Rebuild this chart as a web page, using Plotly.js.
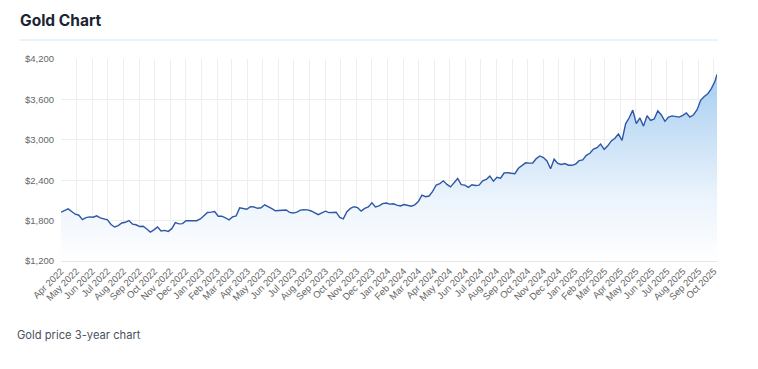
<!DOCTYPE html>
<html>
<head>
<meta charset="utf-8">
<script src="https://cdn.plot.ly/plotly-3.0.1.min.js"></script>
<style>
  html, body { margin: 0; padding: 0; background: #ffffff; }
  #chart { width: 758px; height: 369px; }
</style>
</head>
<body>
<div id="chart"></div>
<script>
// Weekly gold price samples (USD/oz), starting 2022-04-01, one every 7 days
const weeklyStart = '2022-04-01';
const weeklyPrices = [
  // 2022 Apr - Dec
  1925, 1945, 1975, 1935, 1895, 1880, 1815, 1845, 1855, 1850, 1870, 1840, 1828,
  1810, 1742, 1705, 1725, 1765, 1775, 1800, 1748, 1738, 1712, 1716, 1675, 1630,
  1662, 1705, 1645, 1655, 1640, 1680, 1770, 1752, 1755, 1797, 1797, 1793, 1798, 1824,
  // 2023
  1865, 1920, 1926, 1935, 1865, 1865, 1842, 1810, 1855, 1868, 1989, 1978, 1969,
  2007, 2003, 1983, 1990, 2035, 2011, 1977, 1946, 1948, 1961, 1958, 1921, 1912,
  1925, 1955, 1962, 1959, 1943, 1913, 1889, 1915, 1940, 1919, 1924, 1925, 1848,
  1825, 1932, 1981, 2006, 1992, 1940, 1981, 2002, 2065, 2004, 2019, 2053, 2062,
  // 2024
  2045, 2049, 2029, 2018, 2039, 2024, 2013, 2035, 2083, 2179, 2155, 2165, 2233,
  2329, 2350, 2391, 2337, 2301, 2360, 2425, 2333, 2327, 2294, 2333, 2322, 2326,
  2391, 2411, 2460, 2386, 2443, 2431, 2507, 2512, 2503, 2497, 2577, 2621, 2658,
  2653, 2656, 2721, 2760, 2736, 2685, 2570, 2712, 2650, 2633, 2648, 2622, 2621,
  // 2025
  2640, 2690, 2702, 2770, 2800, 2861, 2883, 2936, 2858, 2910, 2984, 3023, 3085,
  2990, 3237, 3327, 3440, 3241, 3325, 3203, 3357, 3289, 3310, 3432, 3368, 3274,
  3337, 3355, 3350, 3337, 3363, 3398, 3336, 3371, 3448, 3586, 3643, 3685, 3760, 3870
];
const lastDate = '2025-10-07';
const lastPrice = 3972;

const yTickVals = [1200, 1800, 2400, 3000, 3600, 4200];
const yTickText = ['$1,200', '$1,800', '$2,400', '$3,000', '$3,600', '$4,200'];

const chartTitle = 'Gold Chart';
const caption = 'Gold price 3-year chart';

// build dates
const dates = [];
const prices = [];
const t0 = new Date(weeklyStart + 'T00:00:00Z').getTime();
weeklyPrices.forEach((p, i) => {
  const d = new Date(t0 + i * 7 * 86400000);
  dates.push(d.toISOString().slice(0, 10));
  prices.push(p);
});
dates.push(lastDate);
prices.push(lastPrice);

const trace = {
  x: dates,
  y: prices,
  type: 'scatter',
  mode: 'lines',
  line: { color: '#2d57a6', width: 1.4 },
  fill: 'tozeroy',
  fillgradient: {
    type: 'vertical',
    start: 1200,
    stop: 4000,
    colorscale: [[0, 'rgba(255,255,255,1)'], [0.35, 'rgba(234,243,252,1)'], [1, 'rgba(165,205,240,1)']]
  },
  hoverinfo: 'x+y'
};

const W = 758, H = 369;
const L = 61, R = 41, T = 59, B = 108;
const pw = W - L - R, ph = H - T - B;

const layout = {
  width: W,
  height: H,
  margin: { l: L, r: R, t: T, b: B },
  paper_bgcolor: '#ffffff',
  plot_bgcolor: '#ffffff',
  showlegend: false,
  font: { family: 'Liberation Sans, Arial, sans-serif', color: '#666666', size: 10 },
  title: {
    text: '<b>' + chartTitle + '</b>',
    xref: 'container', yref: 'container',
    x: 20 / W, xanchor: 'left',
    y: 1 - 21 / H, yanchor: 'middle',
    font: { family: 'Inter, sans-serif', size: 15.5, color: '#1b2435' }
  },
  xaxis: {
    type: 'date',
    range: ['2022-04-01', lastDate],
    tickmode: 'linear',
    tick0: '2022-04-01',
    dtick: 'M1',
    tickformat: '%b %Y',
    tickangle: -45,
    tickfont: { size: 9.5, color: '#666666' },
    showgrid: true,
    gridcolor: '#eeeeee',
    gridwidth: 1,
    showline: true,
    linecolor: '#e6e6e6',
    zeroline: false,
    ticks: '',
    fixedrange: true
  },
  yaxis: {
    range: [1200, 4200],
    tickvals: yTickVals,
    ticktext: yTickText,
    tickfont: { size: 9.5, color: '#666666' },
    showgrid: true,
    gridcolor: '#eeeeee',
    gridwidth: 1,
    showline: false,
    zeroline: false,
    ticks: '',
    ticklabelstandoff: 6,
    fixedrange: true
  },
  shapes: [{
    type: 'line',
    xref: 'paper', yref: 'paper',
    x0: (20 - L) / pw, x1: (718 - L) / pw,
    y0: (H - B - 40) / ph, y1: (H - B - 40) / ph,
    line: { color: '#d5e6f3', width: 1 }
  }],
  annotations: [{
    text: caption,
    xref: 'paper', yref: 'paper',
    x: (15 - L) / pw, xanchor: 'left',
    y: (H - B - 335) / ph, yanchor: 'middle',
    showarrow: false,
    font: { family: 'Inter, sans-serif', size: 11.2, color: '#4a5263' }
  }]
};

Plotly.newPlot('chart', [trace], layout, { displayModeBar: false, staticPlot: true });
</script>
</body>
</html>
